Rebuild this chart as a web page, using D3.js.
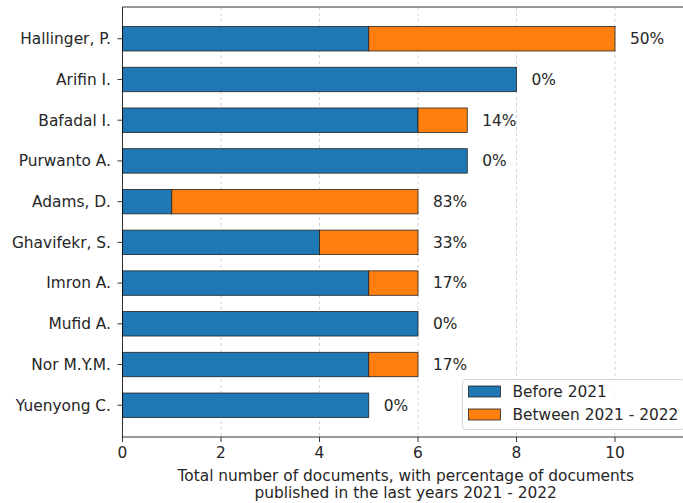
<!DOCTYPE html>
<html><head><meta charset="utf-8">
<script src="https://cdn.jsdelivr.net/npm/d3@7"></script>
<style>body{margin:0;background:#fff;} svg{display:block;} text{font-family:"DejaVu Sans",sans-serif;fill:#262626;}</style>
</head><body>
<svg id="c" width="683" height="503"></svg>
<script>
const authors = ["Hallinger, P.","Arifin I.","Bafadal I.","Purwanto A.","Adams, D.","Ghavifekr, S.","Imron A.","Mufid A.","Nor M.Y.M.","Yuenyong C."];
const before2021 = [5,8,6,7,1,4,5,6,5,5];
const between2021_2022 = [5,0,1,0,5,2,1,0,1,0];
const pctLabels = ["50%","0%","14%","0%","83%","33%","17%","0%","17%","0%"];
const xTicks = [0,2,4,6,8,10];
const seriesNames = ["Before 2021","Between 2021 - 2022"];
const colors = ["#1f77b4","#ff7f0e"];

const FS = 15.4;
const svg = d3.select("#c");
const L = 122.5, T = 7, B = 437;
const x = d3.scaleLinear().domain([0, 11.5]).range([L, L + 11.5*49.25]);
const n = authors.length;
const y = d3.scaleLinear().domain([n - 1 + 0.78, -0.78]).range([T, B]);
const bh = (y(0) - y(0.6));

// grid
svg.append("g").selectAll("line").data(xTicks).join("line")
  .attr("x1", d => x(d)).attr("x2", d => x(d)).attr("y1", T).attr("y2", B)
  .attr("stroke", "#b0b0b0").attr("stroke-width", 0.8).attr("stroke-dasharray", "3,3").attr("opacity", 0.7);

const g = svg.append("g");
authors.forEach((a, i) => {
  const pos = n - 1 - i;
  const cy = y(pos);
  g.append("rect").attr("x", x(0)).attr("y", cy - bh/2).attr("width", x(before2021[i]) - x(0)).attr("height", bh)
    .attr("fill", colors[0]).attr("stroke", "#222").attr("stroke-width", 0.8);
  if (between2021_2022[i] > 0) {
    g.append("rect").attr("x", x(before2021[i])).attr("y", cy - bh/2)
      .attr("width", x(before2021[i] + between2021_2022[i]) - x(before2021[i])).attr("height", bh)
      .attr("fill", colors[1]).attr("stroke", "#222").attr("stroke-width", 0.8);
  }
  g.append("text").attr("x", x(before2021[i] + between2021_2022[i]) + 15).attr("y", cy).attr("dy", "0.35em")
    .attr("font-size", FS).text(pctLabels[i]);
  g.append("line").attr("x1", L - 5).attr("x2", L).attr("y1", cy).attr("y2", cy).attr("stroke", "#000").attr("stroke-width", 0.8);
  g.append("text").attr("x", L - 11.5).attr("y", cy).attr("dy", "0.35em").attr("text-anchor", "end")
    .attr("font-size", FS).text(a);
});

// spines
svg.append("line").attr("x1", L).attr("x2", 683).attr("y1", T).attr("y2", T).attr("stroke", "#000").attr("stroke-width", 0.8);
svg.append("line").attr("x1", L).attr("x2", 683).attr("y1", B).attr("y2", B).attr("stroke", "#000").attr("stroke-width", 0.8);
svg.append("line").attr("x1", L).attr("x2", L).attr("y1", T).attr("y2", B).attr("stroke", "#000").attr("stroke-width", 0.8);

// x ticks
const xt = svg.append("g");
xTicks.forEach(t => {
  xt.append("line").attr("x1", x(t)).attr("x2", x(t)).attr("y1", B).attr("y2", B + 5).attr("stroke", "#000").attr("stroke-width", 0.8);
  xt.append("text").attr("x", x(t)).attr("y", B + 21).attr("text-anchor", "middle").attr("font-size", FS).text(t);
});

// x label
const cx = (x.range()[0] + x.range()[1]) / 2;
svg.append("text").attr("x", cx).attr("y", 480.5).attr("text-anchor", "middle").attr("font-size", FS)
  .text("Total number of documents, with percentage of documents");
svg.append("text").attr("x", cx).attr("y", 497.5).attr("text-anchor", "middle").attr("font-size", FS)
  .text("published in the last years 2021 - 2022");

// legend
const lg = svg.append("g");
lg.append("rect").attr("x", 462.5).attr("y", 379.5).attr("width", 222).attr("height", 50).attr("rx", 3)
  .attr("fill", "#fff").attr("fill-opacity", 0.8).attr("stroke", "#ccc").attr("stroke-width", 0.8);
seriesNames.forEach((s, k) => {
  const yy = 386 + k * 23;
  lg.append("rect").attr("x", 468.5).attr("y", yy).attr("width", 32).attr("height", 11)
    .attr("fill", colors[k]).attr("stroke", "#222").attr("stroke-width", 0.8);
  lg.append("text").attr("x", 512.5).attr("y", yy + 5.5).attr("dy", "0.35em").attr("font-size", FS).text(s);
});
</script>
</body></html>
